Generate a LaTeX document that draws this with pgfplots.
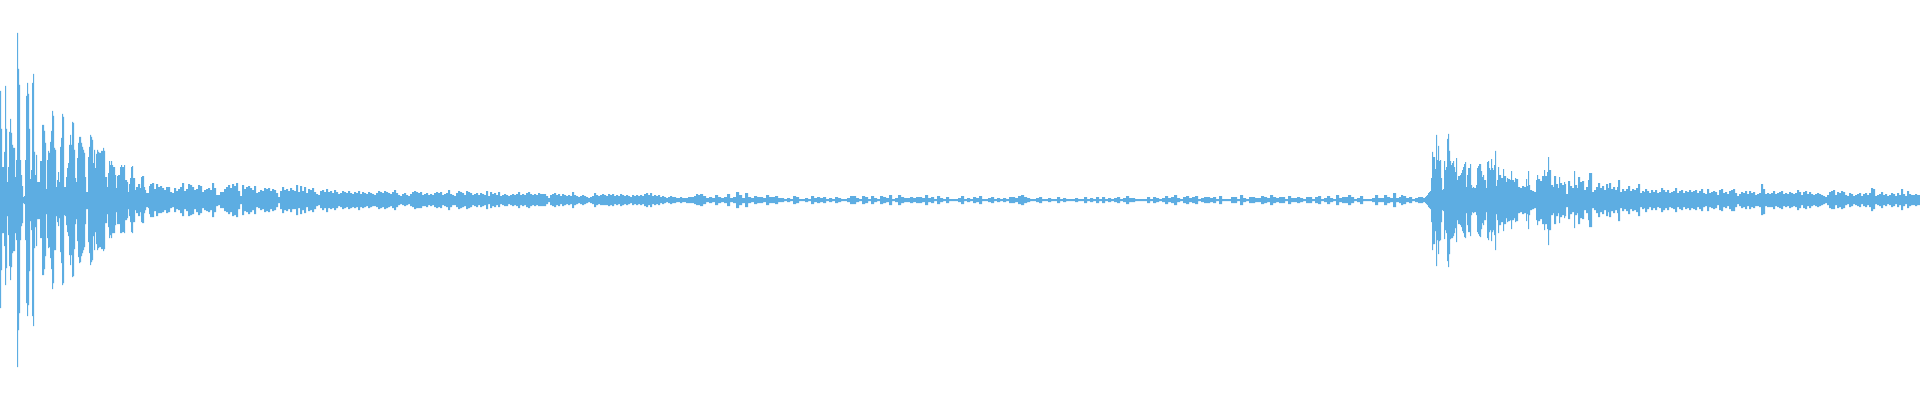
\documentclass[border=0pt]{standalone}
\usepackage{pgfplots}
\usepackage{pgfplotstable}
\pgfplotsset{compat=1.18}
\definecolor{wave}{HTML}{5DADE2}

%%% peak per column: pixel column, upper peak, lower peak (centre line = 0)
\pgfplotstableread{
x up dn
0 109 -108
1 71 -70
2 33 -33
3 33 -33
4 48 -46
5 114 -85
6 71 -68
7 18 -16
8 33 -35
9 68 -66
10 81 -80
11 67 -67
12 55 -53
13 52 -51
14 52 -51
15 23 -33
16 40 -40
17 167 -167
18 131 -130
19 115 -113
20 40 -40
21 25 -26
22 14 -23
23 3 -3
24 4 -4
25 40 -40
26 104 -103
27 117 -116
28 106 -105
29 71 -71
30 21 -21
31 30 -30
32 117 -116
33 126 -126
34 48 -48
35 25 -27
36 45 -46
37 18 -19
38 18 -19
39 18 -19
40 39 -38
41 39 -38
42 75 -75
43 75 -75
44 69 -69
45 57 -56
46 11 -14
47 40 -38
48 49 -48
49 47 -47
50 58 -58
51 69 -69
52 89 -89
53 84 -83
54 52 -50
55 50 -50
56 13 -16
57 20 -22
58 28 -26
59 18 -18
60 53 -52
61 62 -63
62 86 -85
63 83 -83
64 13 -15
65 13 -16
66 23 -25
67 32 -32
68 37 -36
69 55 -55
70 65 -65
71 55 -55
72 78 -77
73 77 -76
74 50 -49
75 22 -24
76 18 -19
77 42 -41
78 57 -57
79 63 -63
80 63 -62
81 57 -56
82 53 -53
83 50 -50
84 47 -47
85 23 -24
86 8 -9
87 8 -9
88 43 -42
89 53 -53
90 65 -65
91 63 -62
92 60 -60
93 37 -36
94 50 -50
95 32 -32
96 46 -44
97 50 -50
98 48 -48
99 47 -47
100 47 -47
101 49 -49
103 52 -51
104 49 -49
105 23 -23
107 13 -14
108 27 -27
109 39 -38
110 35 -35
111 39 -38
112 35 -33
113 33 -33
115 25 -25
116 12 -12
117 24 -24
118 25 -24
120 33 -33
121 35 -33
122 33 -32
124 35 -33
125 20 -20
127 18 -18
128 8 -9
129 16 -16
130 22 -22
131 33 -32
132 34 -33
133 22 -22
135 10 -10
136 13 -13
138 16 -16
140 12 -12
141 23 -22
142 24 -23
144 13 -13
145 10 -10
146 7 -7
148 7 -8
149 14 -14
150 16 -17
152 17 -17
154 11 -11
156 16 -16
158 13 -13
160 14 -13
162 12 -12
164 10 -10
166 13 -13
168 13 -12
170 8 -8
172 7 -7
174 12 -12
176 9 -9
178 11 -10
180 13 -13
182 17 -16
184 9 -9
186 11 -11
188 16 -16
190 15 -15
192 13 -14
194 10 -9
196 11 -12
198 15 -15
200 14 -13
202 8 -8
204 10 -10
206 11 -11
208 12 -12
210 10 -10
212 17 -17
214 12 -12
216 5 -6
218 5 -5
220 8 -8
222 8 -8
224 11 -11
226 13 -12
228 15 -14
230 12 -12
232 16 -16
234 14 -15
236 17 -17
238 9 -9
240 4 -4
242 15 -15
244 11 -11
246 13 -12
248 14 -14
250 12 -12
252 10 -10
254 14 -14
256 7 -7
258 8 -8
260 10 -10
262 9 -9
264 12 -12
266 11 -11
268 12 -12
270 9 -9
272 11 -11
274 10 -10
276 7 -7
278 3 -3
280 9 -9
282 13 -13
284 10 -10
286 11 -11
288 9 -9
290 12 -12
292 10 -9
294 9 -9
296 15 -15
298 8 -8
300 14 -14
302 9 -10
304 13 -13
306 7 -7
308 11 -11
310 10 -10
312 12 -12
314 8 -9
316 6 -6
318 5 -5
320 9 -8
322 10 -10
324 8 -8
326 11 -12
328 8 -8
330 9 -9
332 7 -8
334 10 -10
336 8 -8
338 6 -6
340 7 -7
342 9 -9
344 8 -8
346 7 -7
348 9 -9
350 7 -8
352 6 -7
354 8 -8
356 7 -7
358 9 -10
360 6 -7
362 8 -8
364 7 -7
366 6 -6
368 8 -8
370 7 -7
372 6 -6
374 5 -6
376 7 -7
378 9 -9
380 8 -8
382 7 -7
384 9 -9
386 8 -8
388 7 -7
390 6 -6
392 8 -8
394 10 -10
396 7 -7
398 5 -5
400 4 -4
402 6 -5
404 7 -6
406 5 -5
408 4 -4
410 6 -6
412 8 -7
414 9 -9
416 8 -8
418 7 -8
420 8 -8
422 5 -6
424 6 -6
426 7 -7
428 5 -5
430 6 -6
432 5 -5
434 7 -7
436 8 -8
438 7 -7
440 8 -8
442 5 -5
444 6 -6
446 7 -7
448 10 -10
450 6 -7
452 5 -5
454 4 -5
456 7 -7
458 9 -9
460 8 -8
462 7 -7
464 5 -6
466 9 -9
468 8 -8
470 7 -7
472 5 -5
474 6 -6
476 7 -7
478 5 -5
480 7 -7
482 6 -6
484 5 -5
486 9 -9
488 4 -4
490 8 -8
492 6 -6
494 7 -7
496 5 -5
498 8 -7
500 4 -4
502 5 -5
504 6 -6
506 5 -6
508 4 -4
510 5 -5
512 6 -6
514 5 -5
516 6 -6
518 8 -8
520 5 -5
522 6 -6
524 5 -5
526 7 -7
528 8 -8
530 6 -6
532 5 -5
534 6 -6
536 5 -5
538 7 -6
540 6 -6
542 6 -6
544 6 -6
546 4 -4
548 2 -2
550 5 -5
552 6 -6
554 7 -7
556 5 -5
558 6 -6
560 4 -4
562 6 -6
564 5 -5
566 4 -4
568 5 -5
570 4 -4
572 8 -8
574 5 -5
576 4 -4
578 3 -3
580 4 -4
582 5 -5
584 4 -4
586 3 -3
588 2 -2
590 3 -3
592 4 -4
594 7 -7
596 5 -5
598 4 -4
600 5 -5
602 6 -5
604 5 -5
606 4 -5
608 6 -6
610 5 -5
612 6 -6
614 4 -4
616 5 -5
618 4 -4
620 6 -6
622 5 -5
624 4 -4
626 5 -5
628 4 -4
630 3 -3
632 5 -5
634 4 -4
636 5 -5
638 4 -4
640 5 -5
642 4 -4
644 6 -6
646 7 -7
648 5 -5
650 7 -7
652 4 -4
654 5 -5
656 4 -4
658 5 -5
660 3 -3
662 4 -4
664 3 -3
666 2 -2
668 3 -3
670 4 -4
672 3 -3
674 3 -3
676 2 -2
678 2 -2
680 3 -3
682 2 -2
684 2 -2
686 2 -3
688 3 -3
690 3 -3
692 3 -3
694 4 -4
696 6 -5
698 5 -5
700 6 -6
703 4 -4
706 2 -2
709 3 -3
712 2 -2
715 5 -5
718 3 -3
721 2 -2
724 3 -3
727 6 -6
730 2 -2
733 3 -3
736 8 -8
739 5 -5
742 2 -3
745 7 -7
748 3 -3
751 2 -2
754 4 -4
757 3 -3
760 3 -3
763 2 -2
766 5 -5
769 3 -3
772 3 -3
775 4 -4
778 2 -2
781 2 -2
784 1 -1
787 2 -2
790 1 -1
793 4 -4
796 3 -3
799 1 -1
802 1 -1
805 2 -2
808 1 -1
811 4 -4
814 2 -2
817 3 -3
820 2 -2
823 3 -3
826 1 -1
829 2 -2
832 1 -1
835 3 -3
838 2 -2
841 1 -1
844 1 -1
847 2 -2
850 4 -4
853 4 -4
856 2 -2
859 1 -1
862 4 -4
865 3 -3
868 1 -1
871 4 -4
874 2 -2
877 1 -1
880 4 -4
883 3 -3
886 2 -2
889 5 -5
892 1 -1
895 2 -2
898 5 -5
901 3 -3
904 2 -2
907 2 -2
910 3 -3
913 2 -2
916 3 -3
919 3 -3
922 2 -2
925 5 -5
928 2 -2
931 3 -3
934 1 -1
937 4 -4
940 2 -2
943 1 -1
946 3 -3
949 1 -1
952 1 -1
955 1 -1
958 2 -2
961 4 -4
964 1 -1
967 2 -2
970 1 -1
973 3 -3
976 2 -2
979 4 -4
982 1 -1
985 1 -1
988 2 -2
991 3 -3
994 1 -1
997 2 -2
1000 1 -1
1003 2 -2
1006 1 -1
1009 3 -3
1012 3 -3
1015 2 -2
1018 4 -4
1021 5 -5
1024 3 -3
1027 2 -2
1030 1 -1
1033 1 -1
1036 2 -2
1039 3 -3
1042 1 -1
1045 1 -1
1048 2 -2
1051 1 -1
1054 1 -1
1057 3 -3
1060 1 -1
1063 2 -2
1066 1 -1
1069 1 -1
1072 1 -1
1075 2 -2
1078 1 -1
1081 1 -1
1084 3 -3
1087 1 -1
1090 2 -2
1093 1 -1
1096 3 -3
1099 1 -1
1102 3 -3
1105 1 -1
1108 2 -2
1111 1 -1
1114 2 -2
1117 3 -3
1120 1 -1
1123 2 -2
1126 4 -4
1129 2 -2
1132 2 -2
1135 1 -1
1138 1 -1
1141 1 -1
1144 1 -1
1147 3 -3
1150 1 -1
1153 3 -3
1156 2 -2
1159 1 -1
1162 2 -2
1165 4 -4
1168 2 -2
1171 3 -3
1174 5 -5
1177 2 -2
1180 1 -1
1183 3 -3
1186 4 -4
1189 2 -2
1192 3 -3
1195 4 -4
1198 1 -1
1201 2 -2
1204 3 -3
1207 3 -3
1210 2 -2
1213 3 -3
1216 1 -1
1219 4 -4
1222 1 -1
1225 1 -1
1228 1 -1
1231 3 -3
1234 3 -3
1237 1 -1
1240 5 -5
1243 2 -2
1246 1 -1
1249 3 -3
1252 3 -3
1255 2 -2
1258 2 -2
1261 4 -4
1264 3 -3
1267 2 -2
1270 5 -5
1273 3 -3
1276 2 -2
1279 3 -3
1282 3 -3
1285 1 -1
1288 4 -4
1291 2 -2
1294 2 -2
1297 3 -3
1300 2 -2
1303 1 -1
1306 3 -3
1309 3 -3
1312 1 -1
1315 3 -3
1318 4 -4
1321 1 -1
1324 2 -2
1327 4 -4
1330 2 -2
1333 1 -1
1336 5 -5
1339 2 -2
1342 3 -3
1345 3 -3
1348 5 -5
1351 3 -3
1354 1 -1
1357 2 -2
1360 4 -4
1363 1 -1
1366 1 -1
1369 1 -1
1372 2 -2
1375 5 -5
1378 2 -2
1381 2 -2
1384 5 -5
1387 3 -3
1390 2 -2
1393 7 -7
1396 2 -2
1399 3 -3
1401 5 -5
1403 4 -4
1406 2 -2
1409 3 -3
1412 1 -1
1415 2 -2
1418 3 -3
1421 3 -3
1423 2 -2
1425 3 -3
1426 4 -4
1427 5 -5
1428 7 -7
1429 8 -8
1430 9 -9
1431 22 -22
1432 48 -50
1433 43 -44
1434 43 -44
1435 31 -31
1436 65 -66
1437 40 -40
1438 54 -54
1439 39 -41
1440 40 -40
1441 22 -22
1442 10 -10
1443 11 -11
1444 39 -39
1445 30 -30
1446 33 -33
1447 61 -61
1448 66 -67
1449 49 -54
1450 39 -39
1451 35 -38
1452 37 -38
1453 39 -36
1454 33 -33
1455 28 -28
1456 42 -42
1457 20 -20
1458 24 -24
1459 24 -24
1460 25 -25
1461 27 -27
1462 30 -31
1463 33 -33
1464 36 -37
1465 38 -38
1466 13 -13
1467 25 -25
1468 32 -32
1469 32 -32
1470 36 -36
1471 15 -15
1472 12 -12
1473 13 -13
1474 12 -12
1476 15 -15
1477 32 -32
1478 34 -34
1479 36 -36
1480 36 -37
1481 29 -29
1482 23 -23
1483 25 -25
1484 20 -20
1486 12 -12
1487 38 -38
1488 39 -40
1489 32 -32
1490 30 -30
1491 41 -41
1492 32 -32
1493 30 -30
1494 35 -35
1495 49 -50
1496 14 -14
1497 20 -20
1498 33 -33
1499 25 -25
1501 22 -22
1503 31 -31
1504 24 -24
1506 18 -18
1507 22 -22
1508 21 -21
1510 20 -20
1511 29 -29
1512 20 -20
1514 18 -18
1515 22 -22
1516 21 -21
1518 13 -13
1520 12 -12
1522 14 -14
1524 13 -13
1526 21 -21
1527 14 -14
1528 29 -29
1529 15 -15
1530 10 -10
1532 9 -9
1534 8 -8
1536 20 -20
1537 25 -25
1538 21 -21
1540 19 -19
1542 24 -24
1544 30 -30
1545 24 -24
1547 28 -29
1548 43 -45
1549 30 -30
1551 15 -15
1553 13 -13
1554 24 -24
1556 16 -16
1558 12 -13
1559 23 -23
1560 17 -17
1562 15 -15
1564 18 -18
1565 16 -16
1566 6 -7
1568 19 -19
1570 14 -14
1572 12 -12
1574 29 -28
1575 15 -15
1577 12 -13
1578 23 -24
1580 18 -18
1582 19 -19
1584 10 -10
1586 13 -13
1588 20 -20
1589 27 -27
1590 27 -27
1592 8 -8
1594 10 -10
1596 13 -13
1598 17 -17
1600 12 -12
1602 14 -14
1604 10 -10
1606 16 -16
1608 12 -12
1609 17 -17
1611 11 -11
1613 13 -13
1615 10 -10
1617 13 -13
1618 20 -21
1620 8 -8
1622 11 -11
1624 9 -9
1626 11 -11
1628 14 -14
1630 9 -9
1632 11 -11
1634 10 -10
1636 12 -12
1638 16 -16
1640 7 -7
1642 9 -9
1644 8 -8
1645 11 -12
1647 9 -9
1649 7 -7
1651 10 -10
1653 8 -8
1655 10 -10
1657 7 -7
1659 8 -8
1661 12 -12
1663 10 -10
1665 8 -8
1667 10 -10
1669 7 -7
1671 8 -8
1673 9 -9
1675 12 -12
1677 7 -7
1679 9 -9
1681 10 -10
1683 7 -7
1685 9 -9
1687 8 -8
1689 10 -10
1691 8 -8
1693 9 -9
1695 10 -10
1697 7 -7
1699 9 -9
1701 11 -11
1703 7 -7
1705 6 -6
1707 11 -11
1709 7 -7
1711 8 -8
1713 9 -9
1715 8 -8
1717 5 -5
1719 10 -10
1721 11 -11
1723 7 -7
1725 8 -8
1727 6 -6
1729 9 -9
1731 10 -11
1733 11 -11
1735 7 -7
1737 4 -4
1739 6 -6
1741 8 -8
1743 7 -7
1745 9 -9
1747 6 -6
1749 9 -9
1751 7 -7
1753 8 -8
1755 5 -6
1757 6 -6
1759 7 -7
1761 16 -15
1763 11 -14
1765 6 -6
1767 7 -7
1769 6 -7
1771 7 -7
1773 9 -9
1775 6 -6
1777 7 -7
1779 8 -8
1781 9 -9
1783 6 -6
1785 7 -7
1787 6 -6
1789 8 -8
1791 7 -7
1793 6 -6
1795 7 -7
1797 10 -10
1799 8 -8
1801 5 -5
1803 8 -8
1805 9 -9
1807 6 -6
1809 8 -8
1811 6 -6
1813 5 -5
1815 6 -6
1817 7 -7
1819 6 -6
1821 5 -5
1823 4 -4
1825 3 -3
1827 5 -5
1829 8 -8
1831 9 -9
1833 10 -9
1835 5 -5
1837 8 -8
1839 7 -7
1841 9 -9
1843 8 -8
1845 5 -5
1847 4 -4
1849 7 -7
1851 6 -6
1853 4 -4
1855 5 -5
1857 6 -6
1859 7 -7
1861 4 -4
1863 6 -6
1865 7 -7
1867 5 -5
1869 7 -7
1871 12 -11
1873 11 -9
1875 4 -4
1877 5 -5
1879 6 -6
1881 8 -8
1883 5 -5
1885 6 -6
1887 4 -4
1889 5 -5
1891 7 -7
1893 6 -6
1895 4 -4
1897 7 -7
1899 5 -5
1901 11 -10
1903 6 -6
1905 4 -4
1907 9 -8
1909 6 -6
1911 5 -5
1913 5 -5
1915 6 -6
1917 5 -5
1919 5 -5
1920 5 -5
}\wave

\begin{document}
\begin{tikzpicture}
  %%% hide axis leaves no box, so fix the page to the full plot area
  \useasboundingbox (0,0) rectangle (1920pt,400pt);
  \begin{axis}[
    width = 1920pt,
    height = 400pt,
    scale only axis,
    hide axis,
    xmin = 0,
    xmax = 1920,
    ymin = -200,
    ymax = 200,
    ]
    \addplot [const plot, fill=wave, draw=none] table [x=x, y=up] {\wave} \closedcycle;
    \addplot [const plot, fill=wave, draw=none] table [x=x, y=dn] {\wave} \closedcycle;
  \end{axis}
\end{tikzpicture}
\end{document}
